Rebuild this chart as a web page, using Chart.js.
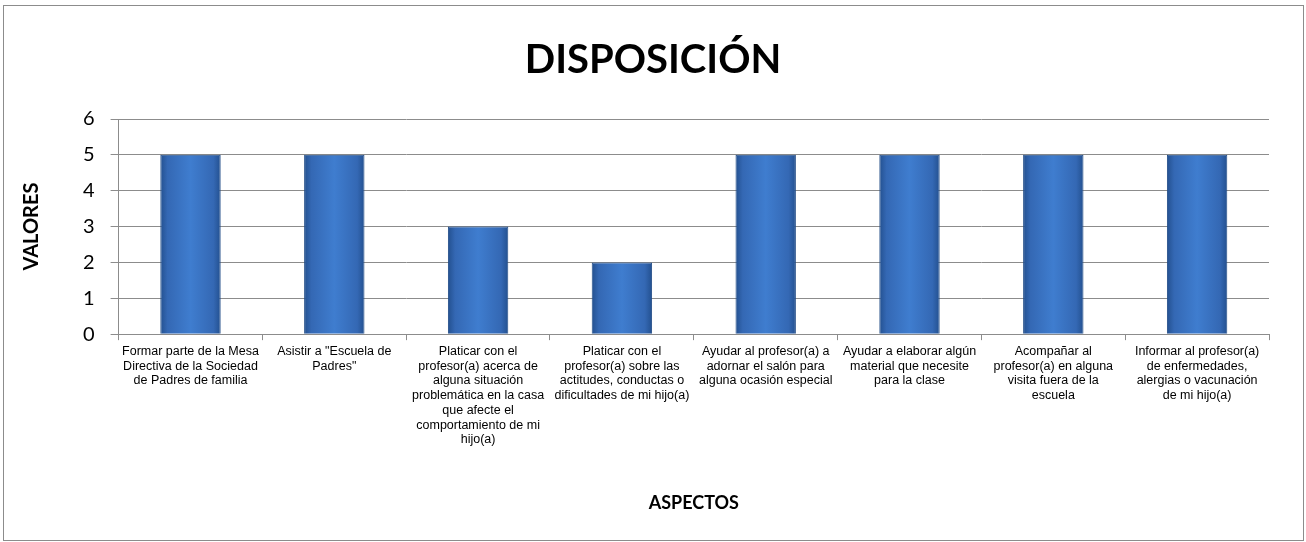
<!DOCTYPE html>
<html>
<head>
<meta charset="utf-8">
<script src="https://cdn.jsdelivr.net/npm/chart.js@4/dist/chart.umd.min.js"></script>
<style>
  html, body { margin: 0; padding: 0; background: #fff; }
  #wrap { position: absolute; left: 3px; top: 5px; width: 1299px; height: 534px; border: 1px solid #8c8c8c; }
  #chart { position: absolute; left: 0; top: 0; }
</style>
</head>
<body>
<div id="wrap"></div>
<canvas id="chart" width="1306" height="542"></canvas>
<script>
const aspectos = [
  ['Formar parte de la Mesa', 'Directiva de la Sociedad', 'de Padres de familia'],
  ['Asistir a "Escuela de', 'Padres"'],
  ['Platicar con el', 'profesor(a) acerca de', 'alguna situación', 'problemática en la casa', 'que afecte el', 'comportamiento de mi', 'hijo(a)'],
  ['Platicar con el', 'profesor(a) sobre las', 'actitudes, conductas o', 'dificultades de mi hijo(a)'],
  ['Ayudar al profesor(a) a', 'adornar el salón para', 'alguna ocasión especial'],
  ['Ayudar a elaborar algún', 'material que necesite', 'para la clase'],
  ['Acompañar al', 'profesor(a) en alguna', 'visita fuera de la', 'escuela'],
  ['Informar al profesor(a)', 'de enfermedades,', 'alergias o vacunación', 'de mi hijo(a)']
]
const valores = [5, 5, 3, 2, 5, 5, 5, 5]

const BAR_PCT = 0.42

// degradado horizontal para imitar el relieve de las barras
const barFill = (ctx) => {
  const chart = ctx.chart
  const xs = chart.scales && chart.scales.x
  if (!xs || !isFinite(xs.width) || xs.width <= 0) return '#3b72c0'
  const cx = xs.getPixelForValue(ctx.dataIndex)
  const half = (xs.width / valores.length) * BAR_PCT / 2
  if (!isFinite(cx) || !isFinite(half)) return '#3b72c0'
  const g = chart.ctx.createLinearGradient(cx - half, 0, cx + half, 0)
  g.addColorStop(0, '#23508f')
  g.addColorStop(0.12, '#3468b4')
  g.addColorStop(0.5, '#3f7dcf')
  g.addColorStop(0.88, '#3468b4')
  g.addColorStop(1, '#23508f')
  return g
}

new Chart(document.getElementById('chart'), {
  type: 'bar',
  data: {
    labels: aspectos,
    datasets: [{
      data: valores,
      backgroundColor: barFill,
      borderColor: '#214c87',
      borderWidth: 1,
      barPercentage: BAR_PCT,
      categoryPercentage: 1
    }]
  },
  options: {
    responsive: false,
    animation: false,
    layout: { padding: { left: 20, right: 20, top: 20, bottom: 20 } },
    plugins: {
      legend: { display: false },
      tooltip: { enabled: false },
      title: {
        display: true,
        text: 'DISPOSICIÓN',
        color: '#000',
        font: { family: 'Lato', size: 40, weight: 'bold' },
        padding: { top: 16, bottom: 35 }
      }
    },
    scales: {
      x: {
        grid: { display: true, drawOnChartArea: false, color: '#8c8c8c', tickLength: 6, offset: true },
        border: { color: '#8c8c8c' },
        ticks: {
          color: '#000',
          autoSkip: false,
          maxRotation: 0,
          padding: 4,
          font: { family: 'Liberation Sans', size: 12.5, lineHeight: 1.18 }
        },
        title: {
          display: true,
          text: 'ASPECTOS',
          color: '#000',
          font: { family: 'Lato', size: 18, weight: 'bold' },
          padding: { top: 41, bottom: 8 }
        }
      },
      y: {
        min: 0,
        max: 6,
        ticks: {
          stepSize: 1,
          color: '#000',
          padding: 16,
          font: { family: 'Lato', size: 20 }
        },
        grid: { color: '#8c8c8c', tickLength: 8 },
        border: { color: '#8c8c8c' },
        title: {
          display: true,
          text: 'VALORES',
          color: '#000',
          font: { family: 'Lato', size: 20, weight: 'bold' },
          padding: { top: 0, bottom: 23 }
        }
      },
      // eje vacío a la derecha, solo reserva el margen del área de trazado
      margen: {
        position: 'right',
        display: true,
        grid: { display: false },
        border: { display: false },
        ticks: { display: false },
        afterFit: (scale) => { scale.width = 17 }
      }
    }
  }
})
</script>
</body>
</html>
